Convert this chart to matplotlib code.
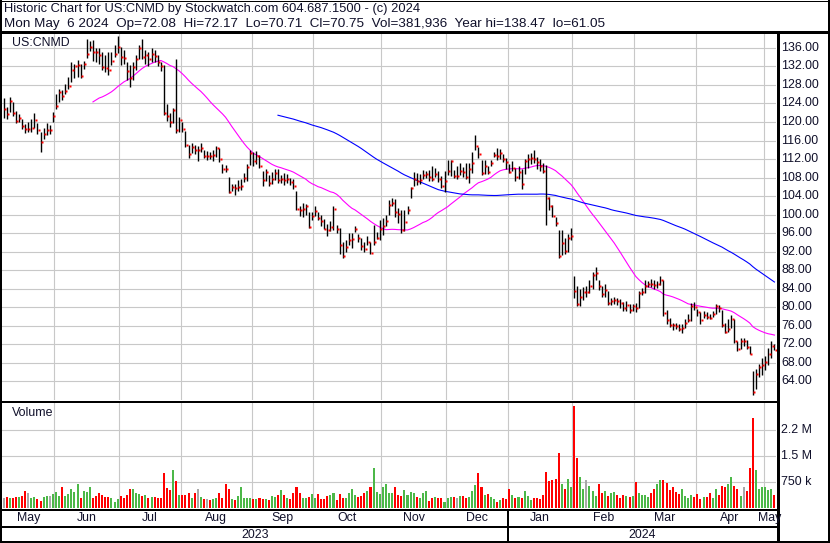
import numpy as np
import pandas as pd
import matplotlib
matplotlib.use("Agg")
import matplotlib.pyplot as plt
from matplotlib.lines import Line2D
from matplotlib.transforms import blended_transform_factory

# ---------------- data ----------------
holidays = ["2023-05-29", "2023-06-19", "2023-07-04", "2023-09-04", "2023-11-23",
            "2023-12-25", "2024-01-01", "2024-01-15", "2024-02-19", "2024-03-29"]
dates = pd.bdate_range("2023-05-08", "2024-05-06")
dates = dates[~dates.isin(pd.to_datetime(holidays))]

close = [
    122.7, 121.7, 124.6, 122.0, 120.2, 120.9, 119.1, 118.5, 118.5, 118.6, 120.4, 118.2, 115.6, 117.3, 118.2, 118.2, 121.2,
    123.5, 126.5, 125.6, 126.6, 127.8, 131.2, 132.0, 132.4, 130.0, 132.5, 134.7, 136.2, 135.1, 135.0, 134.4, 131.8, 131.7, 131.3, 133.1, 134.6, 136.2,
    134.0, 133.8, 131.1, 129.4, 131.8, 133.5, 135.9, 134.1, 134.4, 133.6, 134.7, 134.3, 133.0, 132.1, 122.0, 121.2, 120.1, 122.5, 118.3, 120.5,
    118.4, 115.1, 113.0, 114.6, 113.9, 113.9, 114.3, 112.7, 112.7, 112.6, 112.8, 114.3, 112.1, 109.9, 109.8, 104.8, 105.9, 105.8, 106.0, 106.2, 107.9, 110.2, 113.2,
    111.5, 112.7, 110.5, 107.4, 109.3, 106.9, 107.7, 108.9, 107.4, 107.7, 107.5, 107.7, 107.1, 106.1, 101.2, 101.0, 101.3, 101.9, 97.4, 99.7,
    100.8, 99.2, 98.7, 96.9, 96.6, 97.3, 101.3, 96.9, 93.5, 91.1, 93.1, 94.6, 94.7, 96.9, 94.9, 93.3, 92.5, 94.0, 91.7, 94.0, 94.9, 96.9,
    97.6, 98.7, 102.1, 102.6, 100.5, 100.2, 96.6, 98.5, 101.0, 105.7, 107.7, 107.3, 107.5, 108.6, 108.8, 108.2, 107.8, 108.8, 107.7, 106.1, 107.2,
    109.5, 111.5, 108.4, 108.4, 109.5, 109.3, 108.1, 109.8, 111.2, 114.8, 113.1, 108.9, 110.4, 109.3, 111.1, 112.9, 112.7, 113.4, 112.0, 111.3,
    109.3, 110.0, 108.2, 109.1, 106.7, 111.5, 112.0, 112.2, 112.0, 111.3, 110.5, 109.5, 103.6, 101.8, 99.8, 98.3, 91.0, 93.9, 92.1, 95.0, 95.4,
    83.6, 80.8, 82.3, 83.4, 83.4, 84.5, 87.0, 87.5, 84.5, 82.9, 83.8, 81.0, 81.3, 81.5, 81.3, 80.9, 79.9, 80.4, 79.5, 80.2,
    79.8, 83.1, 83.3, 84.6, 85.1, 85.0, 84.8, 85.0, 85.8, 78.8, 77.2, 76.2, 76.1, 76.0, 75.3, 75.5, 76.7, 77.2, 80.2, 80.0,
    78.9, 77.2, 78.4, 77.9, 77.7, 78.6, 80.2, 79.8, 76.2, 74.7, 75.3, 77.5, 72.8, 71.1, 72.8, 72.8, 71.4, 70.0, 61.8, 65.7, 67.1, 67.6,
    68.3, 70.0, 71.7, 70.75,
]
high = [
    125.1, 123.3, 125.4, 124.3, 122.3, 121.8, 120.6, 119.5, 120.0, 120.6, 122.0, 119.7, 117.9, 118.6, 119.7, 119.3, 122.2,
    126.1, 127.1, 126.9, 128.3, 129.7, 133.0, 132.6, 133.3, 132.6, 133.1, 138.0, 137.4, 137.6, 136.0, 135.9, 135.1, 134.4, 135.1, 135.1, 136.6, 138.47,
    136.2, 135.5, 133.0, 132.3, 133.0, 134.5, 136.6, 138.0, 135.5, 135.0, 136.0, 135.5, 134.5, 133.0, 132.3, 123.8, 122.0, 123.0, 133.6, 121.0,
    120.0, 118.0, 115.0, 115.5, 115.0, 114.8, 115.4, 114.0, 113.8, 113.5, 114.0, 114.8, 114.3, 111.0, 110.8, 108.2, 106.6, 106.6, 107.5, 107.6, 109.0, 111.0, 113.9,
    113.5, 113.8, 112.8, 109.5, 109.8, 108.5, 109.2, 109.8, 109.8, 108.6, 109.0, 108.8, 108.0, 107.8, 105.0, 101.8, 102.5, 102.4, 100.5, 100.5,
    101.9, 100.6, 100.0, 99.0, 98.0, 98.6, 101.8, 97.8, 97.2, 94.0, 94.5, 96.0, 96.0, 97.5, 95.9, 94.9, 94.2, 95.3, 94.2, 97.8, 96.2, 98.8,
    99.3, 100.0, 103.2, 103.6, 103.4, 101.5, 101.0, 101.0, 101.8, 106.0, 109.2, 109.0, 108.7, 109.6, 109.5, 109.6, 110.5, 110.0, 109.5, 108.3, 109.5,
    111.8, 111.8, 109.7, 110.5, 111.1, 110.3, 111.1, 111.1, 113.5, 117.2, 114.5, 111.7, 111.7, 110.5, 111.8, 113.6, 114.3, 114.1, 113.0, 112.2,
    111.0, 111.6, 110.0, 110.5, 109.8, 112.0, 113.0, 113.2, 114.0, 112.5, 112.0, 111.2, 110.8, 103.8, 102.0, 99.5, 96.6, 96.7, 95.0, 95.8, 97.1,
    86.8, 84.5, 84.0, 84.3, 84.5, 85.8, 87.6, 88.8, 86.0, 84.6, 85.0, 83.5, 82.0, 82.2, 82.0, 81.8, 81.2, 81.3, 80.8, 80.8,
    81.0, 83.5, 84.2, 85.8, 85.6, 86.2, 85.8, 85.6, 86.8, 85.8, 79.5, 77.8, 76.6, 76.6, 76.4, 76.5, 77.5, 78.5, 81.0, 81.2,
    79.6, 79.0, 79.2, 78.9, 78.5, 79.2, 80.8, 80.5, 79.4, 76.6, 77.5, 78.3, 77.5, 72.8, 73.4, 73.4, 73.0, 71.7, 66.3, 66.6, 67.7, 69.0,
    69.6, 71.3, 72.8, 72.17,
]
low = [
    120.9, 120.6, 122.2, 121.3, 119.7, 119.9, 118.4, 117.7, 117.9, 117.9, 118.6, 117.5, 113.6, 116.4, 117.2, 117.3, 120.0,
    122.8, 124.3, 124.7, 126.1, 127.2, 128.7, 129.4, 129.7, 129.5, 131.5, 133.8, 135.3, 133.1, 133.0, 132.6, 131.2, 130.8, 130.1, 132.3, 134.1, 134.8,
    132.4, 132.5, 129.0, 127.6, 129.0, 131.2, 133.5, 133.6, 132.6, 132.0, 133.0, 133.0, 132.0, 131.0, 121.5, 120.2, 119.0, 119.8, 117.6, 117.8,
    117.8, 114.5, 112.3, 113.3, 113.0, 111.5, 113.5, 112.2, 111.8, 112.0, 111.6, 112.5, 111.4, 109.0, 109.2, 104.6, 105.0, 104.3, 105.2, 105.4, 107.0, 107.2, 110.8,
    110.6, 111.0, 110.0, 106.2, 107.2, 106.1, 106.6, 107.5, 106.8, 106.8, 106.5, 106.9, 106.4, 105.6, 101.0, 99.8, 99.6, 100.0, 97.1, 98.9,
    99.8, 98.9, 97.5, 96.8, 95.3, 96.4, 96.6, 96.0, 91.6, 90.6, 92.0, 93.5, 92.8, 96.3, 94.2, 92.4, 92.0, 93.5, 91.4, 93.5, 94.7, 94.6,
    95.5, 97.5, 100.0, 101.8, 99.6, 98.2, 96.0, 96.4, 100.2, 103.6, 106.2, 106.5, 106.7, 107.6, 107.9, 107.2, 107.2, 108.2, 107.0, 105.8, 104.9,
    108.6, 108.4, 107.9, 107.6, 108.6, 108.2, 107.6, 106.8, 109.0, 113.9, 112.2, 108.6, 108.8, 108.8, 110.4, 112.4, 111.8, 112.1, 111.4, 109.8,
    108.9, 109.5, 107.3, 107.8, 105.5, 108.8, 110.0, 111.0, 111.2, 109.8, 109.4, 109.0, 97.8, 101.0, 99.4, 97.6, 90.6, 91.3, 91.6, 92.0, 94.6,
    82.0, 80.2, 80.3, 81.5, 82.2, 83.0, 84.0, 86.0, 83.8, 82.3, 82.3, 80.6, 80.6, 80.8, 80.6, 79.8, 79.2, 79.3, 78.8, 79.2,
    79.0, 79.8, 82.6, 83.0, 84.3, 84.4, 84.0, 84.2, 84.8, 78.2, 76.5, 75.8, 75.2, 75.4, 74.8, 74.5, 75.6, 76.8, 77.0, 79.4,
    78.2, 76.4, 77.6, 77.4, 77.4, 78.0, 78.6, 79.0, 75.8, 74.4, 74.6, 75.5, 72.2, 70.6, 71.0, 71.6, 71.1, 69.9, 61.05, 62.4, 65.0, 65.3,
    66.5, 67.6, 69.0, 70.71,
]
volume_k = [
    300, 320, 280, 300, 310, 330, 350, 480, 420, 280, 330, 250, 200, 330, 340, 360, 390,
    450, 340, 600, 340, 400, 560, 470, 680, 300, 480, 450, 600, 300, 340, 420, 380, 330, 310, 280, 180, 250,
    340, 300, 380, 560, 560, 430, 400, 340, 370, 300, 320, 330, 280, 290, 1020, 580, 520, 1100, 780, 370,
    370, 380, 430, 280, 430, 560, 310, 270, 260, 240, 260, 280, 430, 280, 700, 560, 250, 230, 340, 600, 280, 300, 280,
    250, 260, 280, 250, 250, 230, 360, 330, 380, 520, 380, 280, 260, 430, 620, 420, 280, 300, 310, 400,
    280, 400, 250, 270, 350, 380, 440, 240, 400, 300, 280, 420, 550, 380, 320, 360, 420, 500, 600, 1150, 460, 390,
    600, 700, 420, 440, 600, 380, 340, 520, 380, 450, 420, 310, 280, 420, 480, 200, 300, 310, 280, 280, 180,
    280, 330, 310, 280, 360, 350, 290, 330, 480, 650, 1000, 600, 380, 400, 320, 260, 170, 230, 300, 260,
    550, 380, 300, 330, 280, 480, 340, 240, 300, 280, 250, 380, 1050, 780, 820, 840, 1600, 700, 560, 850, 600,
    2950, 1450, 900, 560, 800, 640, 480, 360, 680, 420, 500, 360, 420, 460, 380, 300, 380, 350, 320, 340,
    750, 430, 380, 380, 320, 420, 560, 700, 800, 800, 720, 520, 600, 450, 400, 560, 350, 300, 380, 330,
    410, 250, 330, 330, 420, 300, 560, 380, 640, 620, 680, 900, 630, 550, 350, 600, 480, 1150, 2600, 1100, 560, 600,
    620, 520, 560, 382,
]
price_ticks = [64, 68, 72, 76, 80, 84, 88, 92, 96, 100, 104, 108, 112, 116, 120, 124, 128, 132, 136]
vol_ticks = [750, 1500, 2250]
vol_tick_labels = ["750 k", "1.5 M", "2.2 M"]
title1 = "Historic Chart for US:CNMD by Stockwatch.com 604.687.1500 - (c) 2024"
title2 = "Mon May  6 2024  Op=72.08  Hi=72.17  Lo=70.71  Cl=70.75  Vol=381,936  Year hi=138.47  lo=61.05"

# ---------------- setup ----------------
plt.rcParams["font.family"] = ["Liberation Sans", "DejaVu Sans"]
n = len(close)
idx = np.arange(n)
cl = np.array(close); hi = np.array(high); lo = np.array(low); vol = np.array(volume_k, float)
ma_fast = pd.Series(cl).rolling(30).mean()
ma_slow = pd.Series(cl).rolling(90).mean()

W, H = 830, 543
fig = plt.figure(figsize=(W / 100, H / 100), dpi=100)
fig.patch.set_facecolor("white")

def rect(x0, y0, x1, y1):
    return [x0 / W, 1 - y1 / H, (x1 - x0) / W, (y1 - y0) / H]

def hline(y, x0, x1, lw):
    fig.add_artist(Line2D([x0 / W, x1 / W], [1 - y / H, 1 - y / H], color="black",
                          lw=lw * 0.72, transform=fig.transFigure, solid_capstyle="butt"))

def vline(x, y0, y1, lw):
    fig.add_artist(Line2D([x / W, x / W], [1 - y0 / H, 1 - y1 / H], color="black",
                          lw=lw * 0.72, transform=fig.transFigure, solid_capstyle="butt"))

grid_c = "#c8c8c8"
fs = 8.9
txt_c = "#10102a"

months = pd.Series(dates.to_period("M"))
month_start = [i for i in range(n) if i == 0 or months[i] != months[i - 1]]
bounds = month_start[1:]

# ---------------- price panel ----------------
ax = fig.add_axes(rect(2, 33, 776, 400))
ax.set_xlim(-0.5, n - 0.5)
ax.set_ylim(60.0, 139.2)
for p in price_ticks:
    ax.axhline(p, color=grid_c, lw=0.8, zorder=0)
for b in bounds:
    ax.axvline(b - 0.5, color=grid_c, lw=0.8, zorder=0)
ax.vlines(idx, lo, hi, color="black", lw=1.0, zorder=3)
ax.plot(idx + 0.4, cl, "s", color="#ff0000", ms=1.9, mec="none", zorder=4)
ax.plot(idx, ma_fast, color="#ff00ff", lw=0.8, zorder=2)
ax.plot(idx, ma_slow, color="#0000ff", lw=0.8, zorder=2)
ax.axis("off")
ax.text(10 / 774, 1 - 10 / 367, "US:CNMD", transform=ax.transAxes, fontsize=fs,
        color=txt_c, va="center", ha="left")
tp = blended_transform_factory(fig.transFigure, ax.transData)
for p in price_ticks:
    fig.text(781 / W, p, f"{p:.2f}", transform=tp, fontsize=fs, color=txt_c,
             va="center", ha="left")

# ---------------- volume panel ----------------
av = fig.add_axes(rect(2, 403, 776, 508))
av.set_xlim(-0.5, n - 0.5)
av.set_ylim(0, 3030)
for v in vol_ticks:
    av.axhline(v, color=grid_c, lw=0.8, zorder=0)
for b in bounds:
    av.axvline(b - 0.5, color=grid_c, lw=0.8, zorder=0)
cols = []
for i in range(n):
    if i == 0 or cl[i] == cl[i - 1]:
        cols.append("#a8a8a8")
    elif cl[i] > cl[i - 1]:
        cols.append("#4cb848")
    else:
        cols.append("#ff0000")
av.bar(idx, vol, width=0.66, color=cols, zorder=2)
av.axis("off")
av.text(10 / 774, 1 - 10 / 105, "Volume", transform=av.transAxes, fontsize=fs,
        color=txt_c, va="center", ha="left")
tv = blended_transform_factory(fig.transFigure, av.transData)
for v, lab in zip(vol_ticks, vol_tick_labels):
    fig.text(781 / W, v, lab, transform=tv, fontsize=fs, color=txt_c, va="center", ha="left")

# ---------------- month / year labels ----------------
tx = blended_transform_factory(ax.transData, fig.transFigure)
edges = [-0.5] + [b - 0.5 for b in bounds] + [n - 0.5]
for k in range(len(edges) - 1):
    mid = (edges[k] + edges[k + 1]) / 2
    name = dates[month_start[k]].strftime("%b")
    fig.text(mid, 1 - 518 / H, name, transform=tx, fontsize=fs, color=txt_c,
             ha="center", va="center")
years = pd.Series(dates.year)
year_start = [i for i in range(n) if i == 0 or years[i] != years[i - 1]]
yedges = [-0.5] + [s - 0.5 for s in year_start[1:]] + [n - 0.5]
for k in range(len(yedges) - 1):
    mid = (yedges[k] + yedges[k + 1]) / 2
    fig.text(mid, 1 - 534.5 / H, str(dates[year_start[k]].year), transform=tx,
             fontsize=fs, color=txt_c, ha="center", va="center")
ysep_px = 2 + (year_start[1]) * (774 / n)

# ---------------- titles ----------------
fig.text(4 / W, 1 - 9 / H, title1, fontsize=9.3, color=txt_c, va="center", ha="left")
fig.text(4 / W, 1 - 24 / H, title2, fontsize=9.7, color=txt_c, va="center", ha="left")

# ---------------- frame lines ----------------
hline(0.5, 0, 830, 1)
vline(0.8, 0, 543, 2)
vline(828.8, 0, 543, 2)
hline(31.5, 0, 830, 3)
vline(777.5, 32, 543, 3)
hline(401.5, 0, 777, 2)
hline(509.5, 0, 777, 2)
hline(526.5, 0, 777, 2)
hline(541.8, 0, 830, 2)
vline(ysep_px, 509, 542, 2)

fig.savefig("out.png", dpi=100, facecolor="white")
